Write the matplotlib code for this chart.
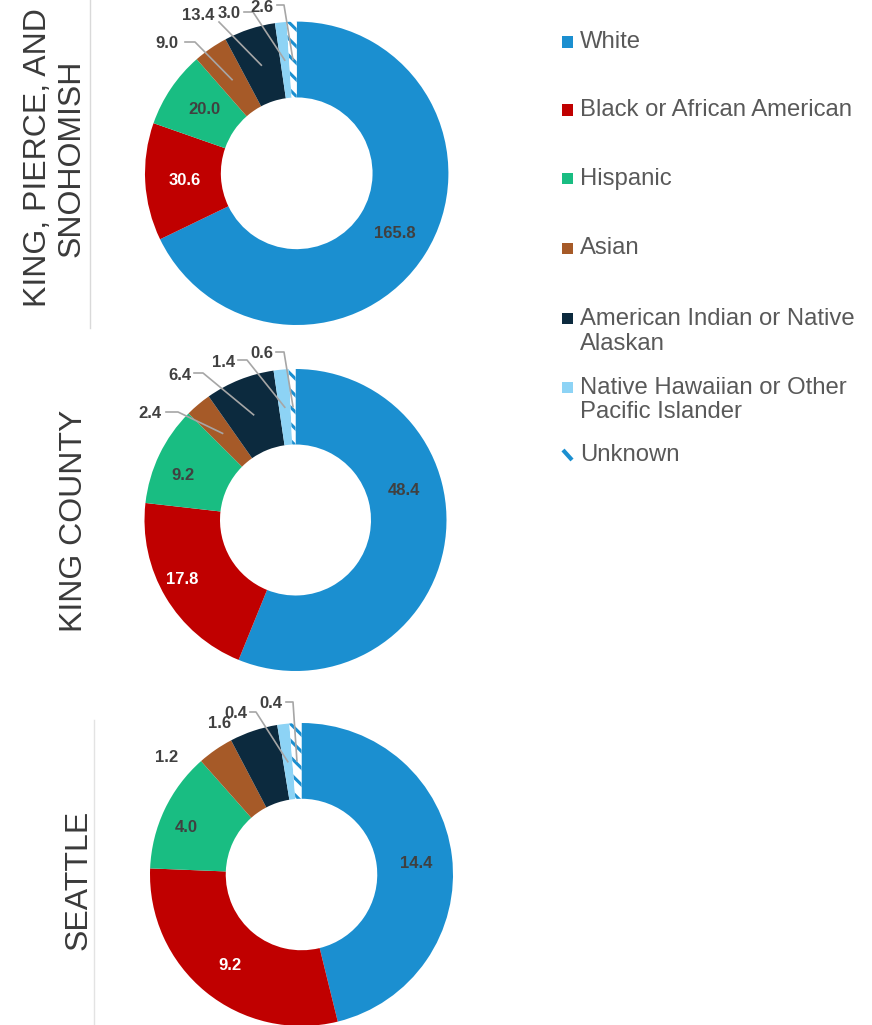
import matplotlib
matplotlib.use("Agg")
import matplotlib.pyplot as plt
import numpy as np
from matplotlib.patches import Rectangle
from matplotlib.lines import Line2D

# ---------------- data ----------------
categories = ["White", "Black or African American", "Hispanic", "Asian",
              "American Indian or Native\nAlaskan",
              "Native Hawaiian or Other\nPacific Islander", "Unknown"]
regions = ["KING, PIERCE, AND\nSNOHOMISH", "KING COUNTY", "SEATTLE"]
kps_values = [165.8, 30.6, 20.0, 9.0, 13.4, 3.0, 2.6]
king_values = [48.4, 17.8, 9.2, 2.4, 6.4, 1.4, 0.6]
seattle_values = [14.4, 9.2, 4.0, 1.2, 1.6, 0.4, 0.4]
all_values = [kps_values, king_values, seattle_values]

colors = ["#1B8FD0", "#C00000", "#19BD82", "#A65A28", "#0C2A3E", "#8DD3F5", "#FFFFFF"]
hatch_color = "#1B8FD0"
label_colors = ["#404040", "white", "#404040", "#404040", "#404040", "#404040", "#404040"]

# ---------------- layout (pixels) ----------------
W, H = 872, 1025
plt.rcParams["font.family"] = ["Liberation Sans", "DejaVu Sans"]
plt.rcParams["hatch.linewidth"] = 2.2

fig = plt.figure(figsize=(W / 100, H / 100), dpi=100)
fig.patch.set_facecolor("white")

donut_geom = [(296.7, 173.3, 151.7), (295.5, 520.0, 151.0), (301.5, 874.5, 151.5)]

label_pos = [
    [(395, 233), (185, 180), (204, 110), (167, 43), (198, 15), (229, 13), (262, 7)],
    [(404, 490), (182, 580), (183, 475), (150, 413), (180, 375), (224, 362), (262, 353)],
    [(416, 863), (230, 965), (186, 828), (167, 757), (220, 723), (236, 713), (271, 703)],
]
leaders = [
    [None, None, None, [(185, 42), (195, 42)], [(219, 22)], [(244, 12), (253, 12)], [(277, 5), (284, 5)]],
    [None, None, None, [(166, 412), (178, 412)], [(194, 373), (203, 373)], [(238, 360), (247, 360)], [(276, 352), (284, 352)]],
    [None, None, None, None, None, [(250, 712), (256, 712)], [(286, 702), (293, 702)]],
]
region_pos = [(55, 158), (74.5, 521), (78.5, 880)]

for vals, (cx, cy, r), lpos, lead in zip(all_values, donut_geom, label_pos, leaders):
    ax = fig.add_axes([(cx - r) / W, 1 - (cy + r) / H, 2 * r / W, 2 * r / H])
    wedges, _ = ax.pie(vals, colors=colors, startangle=90, counterclock=False,
                       radius=1.0, wedgeprops=dict(width=0.5, linewidth=0))
    wedges[-1].set_hatch("\\\\")
    wedges[-1].set_edgecolor(hatch_color)
    wedges[-1].set_linewidth(0)
    ax.set_xlim(-1, 1)
    ax.set_ylim(-1, 1)
    ax.set_aspect("equal")
    ax.axis("off")

    def to_data(p, cx=cx, cy=cy, r=r):
        return ((p[0] - cx) / r, (cy - p[1]) / r)

    for i, (v, w) in enumerate(zip(vals, wedges)):
        tx, ty = to_data(lpos[i])
        if lead[i] is not None:
            mid = np.deg2rad((w.theta1 + w.theta2) / 2)
            anchor = (0.75 * np.cos(mid), 0.75 * np.sin(mid))
            pts = [to_data(p) for p in lead[i]] + [anchor]
            xs, ys = zip(*pts)
            ax.plot(xs, ys, color="#A6A6A6", lw=1.2, clip_on=False, zorder=3)
        ax.text(tx, ty, f"{v:.1f}", ha="center", va="center", fontsize=12,
                fontweight="bold", color=label_colors[i], clip_on=False, zorder=4)

for name, (x, y) in zip(regions, region_pos):
    fig.text(x / W, 1 - y / H, name, rotation=90, ha="center", va="center",
             fontsize=23, color="#3A3A3A", linespacing=1.15, multialignment="center")

# faint separator lines
fig.add_artist(Line2D([90 / W, 90 / W], [1, 1 - 328 / H], color="#D9D9D9", lw=1))
fig.add_artist(Line2D([94 / W, 94 / W], [1 - 720 / H, 0], color="#E3E3E3", lw=1))

# legend
legend_y = [42, 110, 179, 248, 331.5, 400, 455]
first_line_y = [42, 110, 179, 248, 318, 387, 455]
for i, (cat, y, y1) in enumerate(zip(categories, legend_y, first_line_y)):
    fig.text(580 / W, 1 - y / H, cat, ha="left", va="center", fontsize=17.2,
             color="#595959", linespacing=1.12)
    if i < 6:
        fig.add_artist(Rectangle((562 / W, 1 - (y1 + 5.5) / H), 11 / W, 11 / H,
                                 facecolor=colors[i], edgecolor="none",
                                 transform=fig.transFigure))
    else:
        fig.add_artist(Line2D([563 / W, 572 / W], [1 - (y1 - 5) / H, 1 - (y1 + 5) / H],
                              color=hatch_color, lw=3, solid_capstyle="butt"))

fig.savefig("out.png", dpi=100, facecolor="white")
